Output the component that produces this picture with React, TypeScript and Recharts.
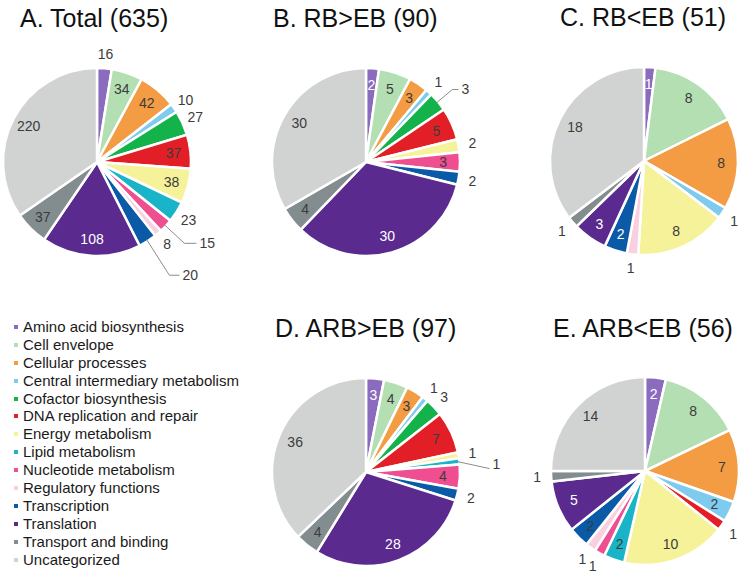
import React from 'react';
import { PieChart, Pie, Cell } from 'recharts';

const categories = [
  'Amino acid biosynthesis',
  'Cell envelope',
  'Cellular processes',
  'Central intermediary metabolism',
  'Cofactor biosynthesis',
  'DNA replication and repair',
  'Energy metabolism',
  'Lipid metabolism',
  'Nucleotide metabolism',
  'Regulatory functions',
  'Transcription',
  'Translation',
  'Transport and binding',
  'Uncategorized',
];

const totalValues = [16, 34, 42, 10, 27, 37, 38, 23, 15, 8, 20, 108, 37, 220];
const rbGtEbValues = [2, 5, 3, 1, 3, 5, 2, 0, 3, 0, 2, 30, 4, 30];
const rbLtEbValues = [1, 8, 8, 1, 0, 0, 8, 0, 0, 1, 2, 3, 1, 18];
const arbGtEbValues = [3, 4, 3, 1, 3, 7, 1, 1, 4, 0, 2, 28, 4, 36];
const arbLtEbValues = [2, 8, 7, 2, 0, 1, 10, 2, 1, 1, 2, 5, 1, 14];

const COLORS = [
  '#8a6bbe', '#b3dfb3', '#f39c43', '#7ecbee', '#14b24a', '#e21f26', '#f5f29a',
  '#1ab4c8', '#ef4f91', '#f9d0e0', '#0a5aa8', '#5a2a8f', '#838c8f', '#d1d2d2',
];

// label placement: i = inside dark, w = inside white, o = outside, l = leader line
// leaders: [elbow radius factor, horizontal length, drop, text dy]
const panels = [
  {
    title: 'A. Total (635)', values: totalValues, cx: 97, cy: 162, tx: 20, ty: 27,
    modes: ['o', 'i', 'i', 'o', 'o', 'i', 'i', 'o', 'l', 'o', 'l', 'w', 'i', 'i'],
    leaders: { 8: [1.27, 12, 0, 0], 10: [1.43, 10, 0, 0] } as Record<number, number[]>,
  },
  {
    title: 'B. RB>EB (90)', values: rbGtEbValues, cx: 366, cy: 162, tx: 273, ty: 27,
    modes: ['w', 'i', 'i', 'o', 'l', 'i', 'o', '', 'i', '', 'o', 'w', 'i', 'i'],
    leaders: { 4: [1.2, 6, 0, 0] } as Record<number, number[]>,
  },
  {
    title: 'C. RB<EB (51)', values: rbLtEbValues, cx: 644, cy: 161, tx: 560, ty: 26,
    modes: ['w', 'i', 'i', 'o', '', '', 'i', '', '', 'o', 'w', 'w', 'o', 'i'],
    leaders: {} as Record<number, number[]>,
  },
  {
    title: 'D. ARB>EB (97)', values: arbGtEbValues, cx: 366, cy: 472, tx: 275, ty: 337,
    modes: ['w', 'i', 'i', 'o', 'o', 'i', 'o', 'l', 'i', '', 'o', 'w', 'i', 'i'],
    leaders: { 7: [1.0, 32, 7, -5] } as Record<number, number[]>,
  },
  {
    title: 'E. ARB<EB (56)', values: arbLtEbValues, cx: 645, cy: 471, tx: 553, ty: 337,
    modes: ['w', 'i', 'i', 'i', '', 'o', 'i', 'i', 'o', 'o', 'i', 'w', 'o', 'i'],
    leaders: {} as Record<number, number[]>,
  },
];

const RADIAN = Math.PI / 180;
const polar = (cx: number, cy: number, r: number, angle: number) => ({
  x: cx + Math.cos(-angle * RADIAN) * r,
  y: cy + Math.sin(-angle * RADIAN) * r,
});

const labelStyle = { fontSize: 14, fontFamily: 'Liberation Sans, Arial, sans-serif' };

const makeLabel = (modes: string[], leaders: Record<number, number[]>) => (props: any) => {
  const { cx, cy, midAngle, outerRadius, value, index } = props;
  const mode = modes[index];
  if (!value || !mode) return null;
  if (mode === 'i' || mode === 'w') {
    const p = polar(cx, cy, outerRadius * 0.82, midAngle);
    return (
      <text x={p.x} y={p.y} fill={mode === 'w' ? '#ffffff' : '#3c3c3c'} stroke="none" textAnchor="middle" dominantBaseline="central" style={labelStyle}>
        {value}
      </text>
    );
  }
  if (mode === 'o') {
    const p = polar(cx, cy, outerRadius * 1.15, midAngle);
    return (
      <text x={p.x} y={p.y} fill="#3c3c3c" stroke="none" textAnchor="middle" dominantBaseline="central" style={labelStyle}>
        {value}
      </text>
    );
  }
  const [elbow, len, drop, tdy] = leaders[index] || [1.25, 10, 0, 0];
  const a = polar(cx, cy, outerRadius * 0.98, midAngle);
  const b = elbow > 1 ? polar(cx, cy, outerRadius * elbow, midAngle) : a;
  const end = { x: b.x + len, y: b.y + drop };
  return (
    <g>
      <polyline points={`${a.x},${a.y} ${b.x},${b.y} ${end.x},${end.y}`} fill="none" stroke="#8c8c8c" strokeWidth={1} />
      <text x={end.x + 3} y={end.y + tdy} fill="#3c3c3c" stroke="none" textAnchor="start" dominantBaseline="central" style={labelStyle}>
        {value}
      </text>
    </g>
  );
};

export default function App() {
  return (
    <div style={{ position: 'absolute', left: 0, top: 0, width: 742, height: 577, background: '#fff' }}>
      <PieChart width={742} height={577} margin={{ top: 0, right: 0, bottom: 0, left: 0 }}>
        {panels.map((p) => (
          <Pie
            key={p.title}
            data={categories.map((name, i) => ({ name, value: p.values[i] }))}
            dataKey="value"
            nameKey="name"
            cx={p.cx}
            cy={p.cy}
            outerRadius={94}
            startAngle={90}
            endAngle={-270}
            stroke="#ffffff"
            strokeWidth={2.5}
            labelLine={false}
            label={makeLabel(p.modes, p.leaders)}
            isAnimationActive={false}
          >
            {categories.map((c, i) => (
              <Cell key={c} fill={COLORS[i]} />
            ))}
          </Pie>
        ))}
      </PieChart>
      <svg width={742} height={577} style={{ position: 'absolute', left: 0, top: 0, pointerEvents: 'none' }}>
        {panels.map((p) => (
          <text key={p.title} x={p.tx} y={p.ty} fill="#111" style={{ fontSize: 25, fontFamily: 'Liberation Sans, Arial, sans-serif' }}>
            {p.title}
          </text>
        ))}
      </svg>
      <div style={{ position: 'absolute', left: 0, top: 318, fontFamily: 'Liberation Sans, Arial, sans-serif', fontSize: 15, color: '#1a1a1a' }}>
        {categories.map((c, i) => (
          <div key={c} style={{ height: 17.9, lineHeight: '17.9px', display: 'flex', alignItems: 'center', whiteSpace: 'nowrap' }}>
            <span style={{ display: 'inline-block', width: 4, height: 4, background: COLORS[i], marginLeft: 14, marginRight: 5 }} />
            <span>{c}</span>
          </div>
        ))}
      </div>
    </div>
  );
}
